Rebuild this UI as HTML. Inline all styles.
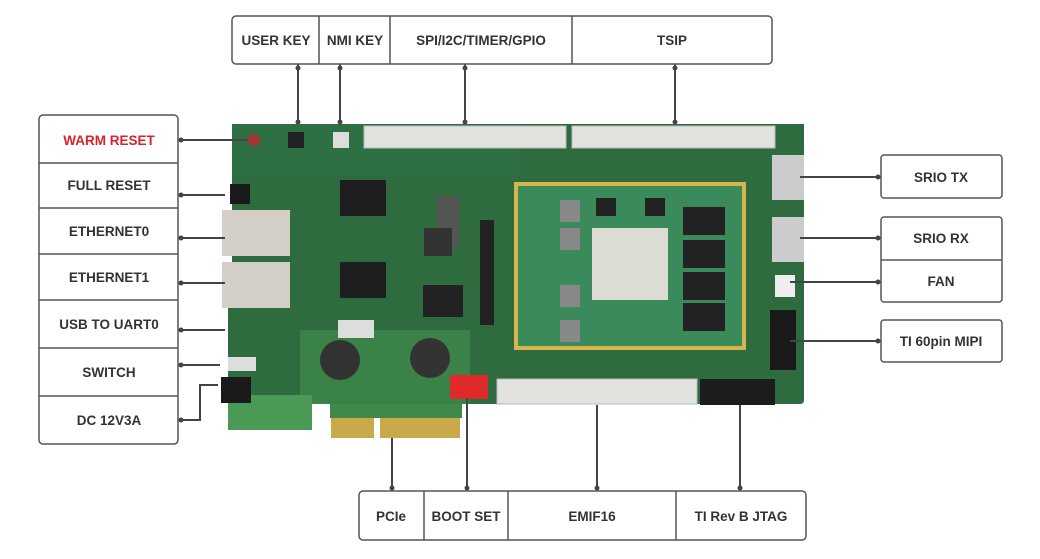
<!DOCTYPE html>
<html><head><meta charset="utf-8"><style>
html,body{margin:0;padding:0;background:#fff;}
body{width:1040px;height:559px;overflow:hidden;position:relative;font-family:"Liberation Sans",Arial,sans-serif;}
svg{position:absolute;left:0;top:0}
text{font-family:"Liberation Sans",Arial,sans-serif;font-weight:bold;font-size:13.5px;fill:#333;text-anchor:middle}
</style></head><body>
<svg width="1040" height="559" viewBox="0 0 1040 559">
<!-- board -->
<path d="M232 124 H804 V400 Q804 404 800 404 H462 V418 H330 V404 H312 V430 H228 V300 H232 Z" fill="#2e6b3e"/>
<path d="M232 124 H520 V175 H232Z" fill="#31714a" opacity=".6"/>
<path d="M300 330 H470 V404 H300Z" fill="#3a8248"/>
<path d="M228 395 H312 V430 H228Z" fill="#4a9a55"/>
<path d="M330 404 H462 V418 H330Z" fill="#3f8a4a"/>
<!-- pcie fingers -->
<rect x="331" y="418" width="43" height="20" fill="#c9a94a"/>
<rect x="380" y="418" width="80" height="20" fill="#c9a94a"/>
<!-- headers -->
<rect x="364" y="126" width="202" height="22" fill="#e2e2de" stroke="#bbb"/>
<rect x="572" y="126" width="203" height="22" fill="#e2e2de" stroke="#bbb"/>
<rect x="437" y="196" width="22" height="50" fill="#555"/>
<rect x="480" y="220" width="14" height="105" fill="#222"/>
<rect x="497" y="379" width="200" height="25" fill="#e2e2de" stroke="#bbb"/>
<rect x="700" y="379" width="75" height="26" fill="#1c1c1c"/>
<rect x="450" y="375" width="38" height="24" fill="#e02a2a"/>
<!-- module -->
<rect x="514" y="182" width="232" height="168" fill="#d8b44a"/>
<rect x="518" y="186" width="224" height="160" fill="#3a8a5c"/>
<rect x="592" y="228" width="76" height="72" fill="#dcdcd4"/>
<rect x="683" y="207" width="42" height="28" fill="#222"/>
<rect x="683" y="240" width="42" height="28" fill="#222"/>
<rect x="683" y="272" width="42" height="28" fill="#222"/>
<rect x="683" y="303" width="42" height="28" fill="#222"/>
<rect x="560" y="200" width="20" height="22" fill="#888"/>
<rect x="560" y="228" width="20" height="22" fill="#888"/>
<rect x="560" y="285" width="20" height="22" fill="#888"/>
<rect x="560" y="320" width="20" height="22" fill="#888"/>
<rect x="596" y="198" width="20" height="18" fill="#222"/>
<rect x="645" y="198" width="20" height="18" fill="#222"/>
<!-- other parts -->
<rect x="340" y="180" width="46" height="36" fill="#1e1e1e"/>
<rect x="340" y="262" width="46" height="36" fill="#1e1e1e"/>
<rect x="423" y="285" width="40" height="32" fill="#222"/>
<rect x="424" y="228" width="28" height="28" fill="#333"/>
<circle cx="340" cy="360" r="20" fill="#333"/><circle cx="430" cy="358" r="20" fill="#333"/>
<rect x="338" y="320" width="36" height="18" fill="#ddd"/>
<rect x="222" y="210" width="68" height="46" fill="#d4d0c8"/>
<rect x="222" y="262" width="68" height="46" fill="#d4d0c8"/>
<rect x="230" y="184" width="20" height="20" fill="#1a1a1a"/>
<rect x="228" y="357" width="28" height="14" fill="#ddd"/>
<rect x="221" y="377" width="30" height="26" fill="#1a1a1a"/>
<rect x="772" y="155" width="32" height="45" fill="#ccc"/>
<rect x="772" y="217" width="32" height="45" fill="#ccc"/>
<rect x="770" y="310" width="26" height="60" fill="#1a1a1a"/>
<rect x="775" y="275" width="20" height="22" fill="#eee"/>
<circle cx="254" cy="140" r="6" fill="#a33"/><rect x="288" y="132" width="16" height="16" fill="#222"/><rect x="333" y="132" width="16" height="16" fill="#ddd"/>
<!-- connectors -->
<g stroke="#444" stroke-width="2" fill="none">
<path d="M298 64V122M340 64V122M465 64V122M675 64V122"/>
<path d="M392 491V438M467 491V398M597 491V405M740 491V405"/>
<path d="M178 140H248M178 195H225M178 238H225M178 283H225M178 330H225M178 365H220M178 420H200V385H218"/>
<path d="M881 177H800M881 238H800M881 282H790M881 341H790"/>
</g>
<g fill="#444">
<circle cx="298" cy="68" r="2.5"/><circle cx="340" cy="68" r="2.5"/><circle cx="465" cy="68" r="2.5"/><circle cx="675" cy="68" r="2.5"/>
<circle cx="298" cy="122" r="2.5"/><circle cx="340" cy="122" r="2.5"/><circle cx="465" cy="122" r="2.5"/><circle cx="675" cy="122" r="2.5"/>
<circle cx="392" cy="488" r="2.5"/><circle cx="467" cy="488" r="2.5"/><circle cx="597" cy="488" r="2.5"/><circle cx="740" cy="488" r="2.5"/>
<circle cx="181" cy="140" r="2.5"/><circle cx="181" cy="195" r="2.5"/><circle cx="181" cy="238" r="2.5"/><circle cx="181" cy="283" r="2.5"/><circle cx="181" cy="330" r="2.5"/><circle cx="181" cy="365" r="2.5"/><circle cx="181" cy="420" r="2.5"/>
<circle cx="878" cy="177" r="2.5"/><circle cx="878" cy="238" r="2.5"/><circle cx="878" cy="282" r="2.5"/><circle cx="878" cy="341" r="2.5"/>
</g>
<!-- boxes -->
<g fill="#fff" stroke="#555" stroke-width="1.5">
<rect x="232" y="16" width="540" height="48" rx="4"/>
<rect x="39" y="115" width="139" height="329" rx="4"/>
<rect x="881" y="155" width="121" height="43" rx="3"/>
<rect x="881" y="217" width="121" height="85" rx="3"/>
<rect x="881" y="320" width="121" height="42" rx="3"/>
<rect x="359" y="491" width="447" height="49" rx="4"/>
</g>
<g stroke="#555" stroke-width="1.5">
<path d="M319 16V64M390 16V64M572 16V64"/>
<path d="M39 163H178M39 208H178M39 254H178M39 300H178M39 348H178M39 396H178"/>
<path d="M881 260H1002"/>
<path d="M424 491V540M508 491V540M676 491V540"/>
</g>
<text x="276" y="45">USER KEY</text><text x="355" y="45">NMI KEY</text>
<text x="481" y="45">SPI/I2C/TIMER/GPIO</text><text x="672" y="45">TSIP</text>
<text x="109" y="145" style="fill:#d8232a">WARM RESET</text>
<text x="109" y="190">FULL RESET</text><text x="109" y="236">ETHERNET0</text>
<text x="109" y="282">ETHERNET1</text><text x="109" y="329">USB TO UART0</text>
<text x="109" y="377">SWITCH</text><text x="109" y="425">DC 12V3A</text>
<text x="941" y="182">SRIO TX</text><text x="941" y="243">SRIO RX</text>
<text x="941" y="286">FAN</text><text x="941" y="346">TI 60pin MIPI</text>
<text x="391" y="521">PCIe</text><text x="466" y="521">BOOT SET</text>
<text x="592" y="521">EMIF16</text><text x="741" y="521">TI Rev B JTAG</text>
</svg>
</body></html>
